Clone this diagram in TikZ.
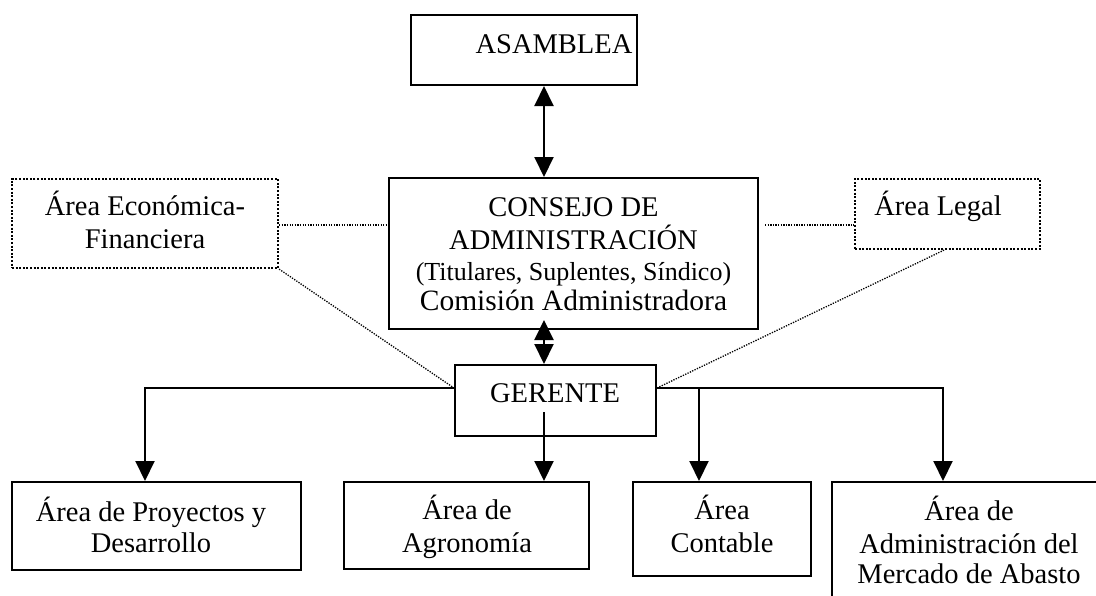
\documentclass[tikz,border=0pt]{standalone}
\usepackage{fontspec}
\setmainfont{Liberation Serif}
\usetikzlibrary{arrows.meta}
\begin{document}
\begin{tikzpicture}[x=1pt,y=-1pt,
  solidbox/.style={draw, line width=2pt, inner sep=0pt, rectangle},
  dotbox/.style={draw, line width=2.2pt, dash pattern=on 2pt off 1.6pt, inner sep=0pt, rectangle},
  txt/.style={inner sep=0pt, align=center, anchor=base, font=\fontsize{28.5}{33}\selectfont},
  arr/.style={line width=2pt, -{Triangle[length=20pt,width=19pt]}},
  darr/.style={line width=2pt, {Triangle[length=20pt,width=19pt]}-{Triangle[length=20pt,width=19pt]}},
  conn/.style={line width=2pt},
  dotline/.style={line width=1.3pt, dash pattern=on 1.3pt off 1.3pt}
]
\useasboundingbox (0,0) rectangle (1096,595);
\clip (0,0) rectangle (1096,595);
\fill[white] (0,0) rectangle (1096,595);

% boxes
\node[solidbox, minimum width=226pt, minimum height=70pt] (asamblea) at (524,50) {};
\node[solidbox, minimum width=369pt, minimum height=151pt] (consejo) at (573.5,253.5) {};
\node[dotbox, minimum width=266pt, minimum height=89pt] (economica) at (145,223.5) {};
\node[dotbox, minimum width=185pt, minimum height=70pt] (legal) at (947.5,214) {};
\node[solidbox, minimum width=201pt, minimum height=71pt] (gerente) at (555.5,400.5) {};
\node[solidbox, minimum width=289pt, minimum height=88pt] (proyectos) at (156.5,526) {};
\node[solidbox, minimum width=245pt, minimum height=87pt] (agronomia) at (466.5,525.5) {};
\node[solidbox, minimum width=178pt, minimum height=94pt] (contable) at (722,529) {};
\node[solidbox, minimum width=300pt, minimum height=140pt] (mercado) at (982,552) {};

% texts (anchor base = baseline of the last line)
\node[txt] (tasamblea) at (554,53) {ASAMBLEA};
\node[txt] (tconsejo) at (573.5,310) {CONSEJO DE\\ADMINISTRACIÓN\\[-2pt]{\fontsize{26}{30}\selectfont (Titulares, Suplentes, Síndico)}\\[-3pt]{\fontsize{29.5}{33}\selectfont Comisión Administradora}};
\node[txt] (teconomica) at (145,248) {Área Económica-\\Financiera};
\node[txt] (tlegal) at (938,215) {Área Legal};
\node[txt] (tgerente) at (555,402) {GERENTE};
\node[txt] (tproyectos) at (151,552) {Área de Proyectos y\\[-2pt]Desarrollo};
\node[txt] (tagronomia) at (467,552) {Área de\\Agronomía};
\node[txt] (tcontable) at (722,552) {Área\\Contable};
\node[txt] (tmercado) at (969,583) {Área de\\Administración del\\[-3pt]Mercado de Abasto};

% connectors
\coordinate (axis) at (544,0);
\coordinate (gl) at ([yshift=12.5pt]gerente.west);
\coordinate (gr) at ([yshift=12.5pt]gerente.east);
\draw[darr] (asamblea.south -| axis) -- (consejo.north -| axis);
\draw[darr] ([yshift=10pt]consejo.south -| axis) -- (gerente.north -| axis);
\draw[arr] ([yshift=-11.5pt]gerente.center -| axis) -- (agronomia.north -| axis);
\draw[arr] (gl) -| ([xshift=-11.5pt]proyectos.north);
\draw[arr] (gr) -| ([xshift=-39pt]mercado.north);
\draw[arr] ([xshift=-23pt]contable.north |- gr) -- ([xshift=-23pt]contable.north);

% dotted relations
\draw[dotline] ([yshift=-1.5pt]economica.east) -- ([yshift=-1.5pt]economica.east -| consejo.west);
\draw[dotline] (economica.south east) -- (gl);
\draw[dotline] ([xshift=6pt,yshift=-11pt]legal.west -| consejo.east) -- ([yshift=-11pt]legal.west);
\draw[dotline] (gr) -- ([xshift=-3.5pt]legal.south);
\end{tikzpicture}
\end{document}
